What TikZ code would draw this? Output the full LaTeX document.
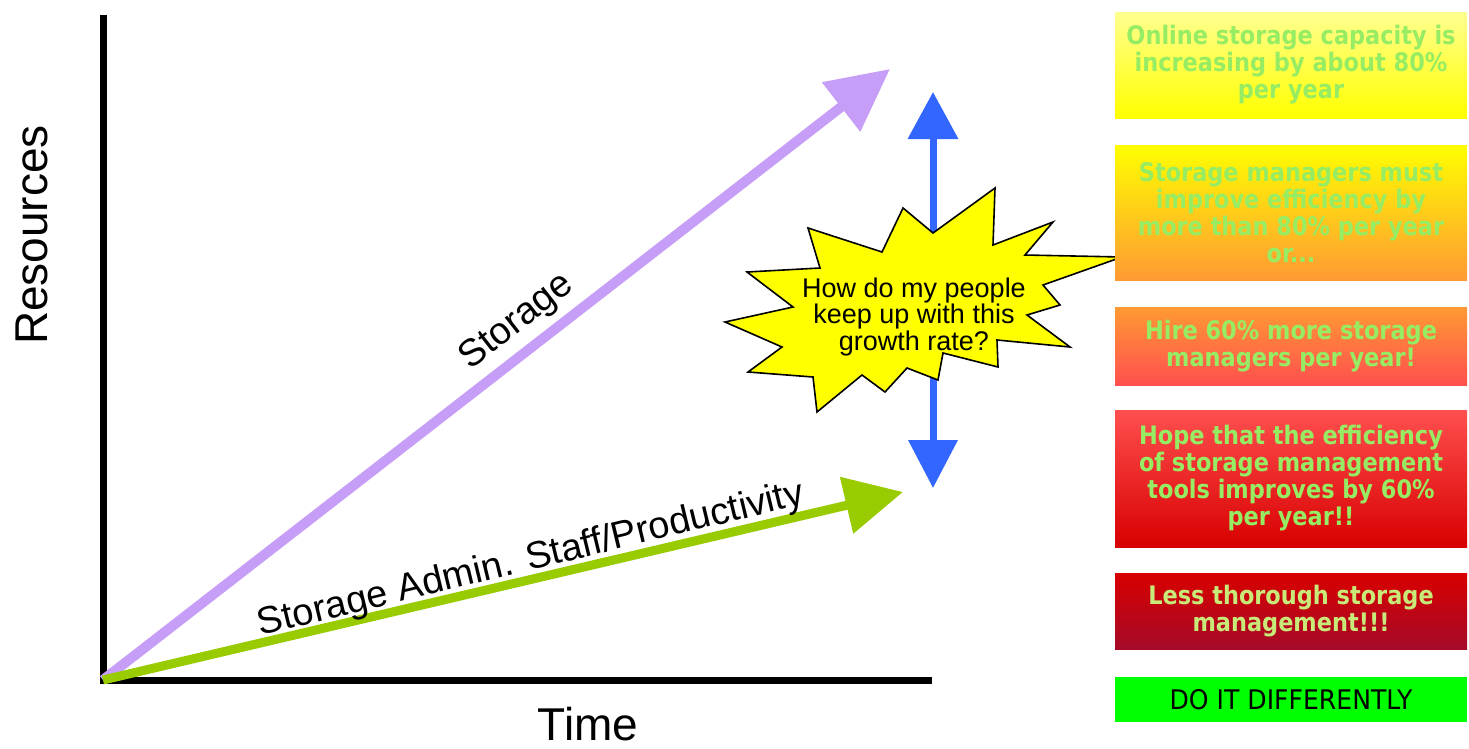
\documentclass[tikz,border=0pt]{standalone}
\usepackage{fontspec}
\setmainfont{Liberation Sans}
\newfontfamily\boxfont[FakeStretch=0.88]{DejaVu Sans}
\newfontfamily\capsfont[FakeStretch=0.93]{DejaVu Sans}
\usetikzlibrary{arrows.meta}
\definecolor{purplearrow}{HTML}{C79EF7}
\definecolor{greenarrow}{HTML}{99CC00}
\definecolor{bluearrow}{HTML}{3366FF}
\definecolor{boxtext}{HTML}{96EC62}
\definecolor{boxtextb}{HTML}{C8EA78}
\definecolor{paleyellow}{HTML}{FFFF90}
\definecolor{yell}{HTML}{FFFF00}
\definecolor{orng}{HTML}{FF9A33}
\definecolor{redlight}{HTML}{FF4F4F}
\definecolor{redmid}{HTML}{D80000}
\definecolor{reddark}{HTML}{A50A28}
\definecolor{brightgreen}{HTML}{00FF00}
\tikzset{
  axisline/.style={line width=7pt, black, line join=miter},
  lbl/.style={inner sep=0pt},
  infobox/.style={minimum width=352pt, minimum height=#1, inner sep=0pt, align=center,
     text=boxtext, font=\boxfont\bfseries\fontsize{25.5}{27}\selectfont},
  burst/.style={fill=yell, draw=black, line width=1.6pt, line join=miter},
}
\begin{document}
\begin{tikzpicture}[x=1pt,y=-1pt]
\useasboundingbox (0,0) rectangle (1469,748);
\fill[white] (0,0) rectangle (1469,748);

% coordinates
\coordinate (O) at (103,680);
\coordinate (Ytop) at (103,15);
\coordinate (Xend) at (932,680);
\coordinate (Ptip) at (890,69);
\coordinate (Gtip) at (903,492);
\coordinate (Btop) at (933,92);
\coordinate (Bbot) at (933,488);

% axes
\draw[axisline] (Ytop) -- (O) -- (Xend);

% arrows
\draw[line width=10pt, purplearrow, -{Triangle[length=62pt,width=60pt]}] (O) -- (Ptip);
\draw[line width=9pt, greenarrow, -{Triangle[length=58pt,width=56pt]}] (O) -- (Gtip);
\draw[line width=7pt, bluearrow, {Triangle[length=47pt,width=49pt]}-{Triangle[length=48pt,width=48pt]}] (Btop) -- (Bbot);

% axis labels
\node[lbl, rotate=90, font=\fontsize{46}{50}\selectfont] (res) at (32,235) {Resources};
\node[lbl, font=\fontsize{46}{50}\selectfont] (time) at (588,724) {Time};
\node[lbl, rotate=37.9, font=\fontsize{38}{42}\selectfont] (stl) at (517,322) {Storage};
\node[lbl, rotate=13.6, font=\fontsize{38}{42}\selectfont] (gl) at (531,560) {Storage Admin. Staff/Productivity};

% starburst
\draw[burst] (725,322) -- (793,307) -- (747,272) -- (820,268) -- (808,228) -- (882,252)
  -- (903,208) -- (933,233) -- (995,188) -- (993,245) -- (1053,222) -- (1025,255)
  -- (1122,257) -- (1043,285) -- (1060,305) -- (1027,315) -- (1070,347) -- (997,340)
  -- (998,367) -- (943,353) -- (938,380) -- (907,368) -- (885,392) -- (862,375)
  -- (817,412) -- (813,377) -- (748,372) -- (782,347) -- cycle;
\node[lbl, align=center, font=\fontsize{27}{23.5}\selectfont] (q) at (914,317)
  {How do my people\\keep up with this\\growth rate?};

% boxes
\node[infobox=106pt, top color=paleyellow, bottom color=yell] (b1) at (1291,65)
  {Online storage capacity is\\increasing by about 80\%\\per year};
\node[infobox=135pt, top color=yell, bottom color=orng] (b2) at (1291,212.5)
  {Storage managers must\\improve efficiency by\\more than 80\% per year\\or...};
\node[infobox=78pt, top color=orng, bottom color=redlight] (b3) at (1291,346)
  {Hire 60\% more storage\\managers per year!};
\node[infobox=137pt, top color=redlight, bottom color=redmid] (b4) at (1291,478.5)
  {Hope that the efficiency\\of storage management\\tools improves by 60\%\\per year!!};
\node[infobox=76pt, top color=redmid, bottom color=reddark, text=boxtextb] (b5) at (1291,611)
  {Less thorough storage\\management!!!};
\node[infobox=45pt, fill=brightgreen, text=black, font=\capsfont\fontsize{27}{30}\selectfont] (b6) at (1291,699.5)
  {DO IT DIFFERENTLY};
\end{tikzpicture}
\end{document}
